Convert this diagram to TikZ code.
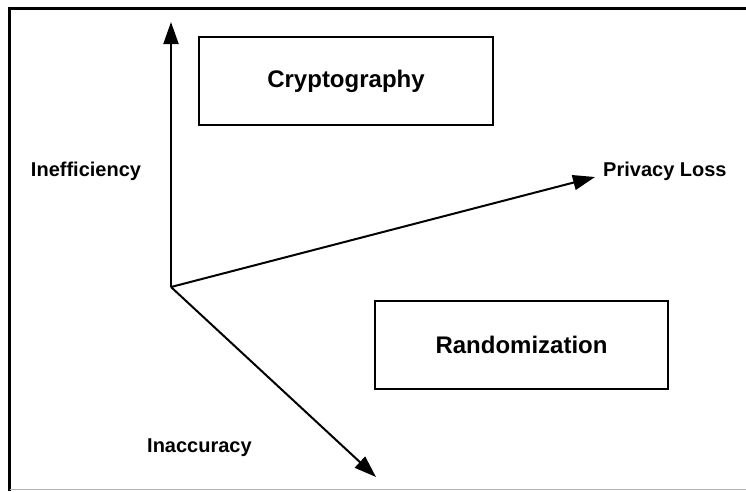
\documentclass[tikz,border=0pt]{standalone}
\usepackage{fontspec}
\setmainfont{Liberation Sans}
\usetikzlibrary{arrows.meta}
\begin{document}
\begin{tikzpicture}[x=1pt,y=-1pt,
  boxstyle/.style={draw=black,line width=2pt,minimum width=#1,minimum height=88pt,inner sep=0pt,font=\fontsize{24}{28}\selectfont\bfseries},
  lbl/.style={inner sep=0pt,font=\fontsize{20}{24}\selectfont\bfseries},
  axis/.style={line width=2pt,-{Triangle[length=22pt,width=15pt]}}]
\useasboundingbox (0,0) rectangle (746,491);
\fill[white] (0,0) rectangle (746,491);
% frame
\draw[line width=3pt,line cap=rect] (9.5,489) -- (9.5,8) -- (746,8);
\draw[line width=1pt,gray!60] (9.5,489.5) -- (746,489.5);
% boxes
\node[boxstyle=294pt] (crypto) at (346,81) {Cryptography};
\node[boxstyle=293pt] (rand) at (521.5,345) {Randomization};
% axes
\coordinate (O) at (171,287);
\coordinate (up) at (171,22);
\coordinate (pl) at (595,177);
\coordinate (dn) at (376,477);
\draw[axis] (O) -- (up);
\draw[axis] (O) -- (pl);
\draw[axis] (O) -- (dn);
% labels
\node[lbl,anchor=base] (ineff) at (86,176) {Inefficiency};
\node[lbl,anchor=base west] (ploss) at (603,176) {Privacy Loss};
\node[lbl,anchor=base west] (inacc) at (147,452) {Inaccuracy};
\end{tikzpicture}
\end{document}
